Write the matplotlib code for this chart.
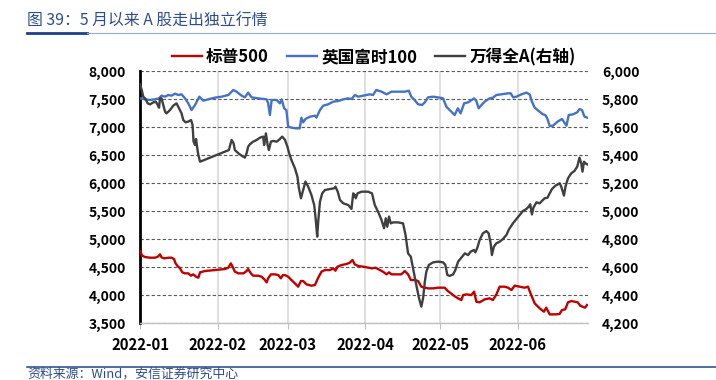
# 5月以来A股走出独立行情 - S&P500 / FTSE100 / Wind All A
import matplotlib
matplotlib.use('Agg')
import matplotlib.pyplot as plt
import matplotlib.dates as mdates
from matplotlib.lines import Line2D
from matplotlib.ticker import FuncFormatter
import numpy as np

plt.rcParams['font.family'] = ['Noto Sans CJK SC', 'DejaVu Sans']

# days counted from 2022-01-01
spx_day = [0, 0.9, 2.0, 4.0, 6.0, 7.1, 8.0, 8.6, 9.7, 11.3, 12.6, 13.6, 14.2, 15.0, 16.0, 16.9, 18.0, 19.3,
           20.4, 21.3, 22.4, 23.3, 24.0, 25.9, 28.6, 31.3, 33.9, 35.3, 36.3, 37.0, 37.9, 39.3, 41.3, 42.6,
           43.2, 44.3, 45.2, 47.2, 48.6, 49.9, 50.6, 51.2, 52.3, 53.9, 55.2, 56.3, 57.1, 57.9, 59.2, 60.5,
           61.9, 63.2, 64.3, 65.2, 66.5, 68.5, 69.9, 71.2, 72.5, 73.9, 75.9, 77.2, 78.1, 78.9, 80.5, 82.5,
           83.8, 84.9, 85.8, 87.2, 89.2, 91.2, 92.7, 94.1, 95.1, 97.1, 98.5, 99.5, 100.5, 104.4, 105.8,
           107.1, 108.2, 109.8, 111.1, 112.4, 113.8, 115.1, 117.1, 119.1, 120.4, 121.7, 123.0, 125.1, 126.0,
           127.1, 128.4, 129.1, 130.4, 132.4, 133.5, 134.4, 135.7, 137.7, 139.7, 141.0, 142.4, 143.7, 145.7,
           147.1, 148.4, 149.7, 151.7, 153.7, 155.0, 156.3, 157.7, 159.7, 161.4, 162.3, 163.7, 165.7, 167.6,
           168.6, 169.9, 171.0, 172.3, 173.6, 174.9, 175.9, 176.9, 177.8, 178.6]
spx_val = [4790, 4706, 4682, 4670, 4670, 4688, 4730, 4676, 4658, 4670, 4670, 4646, 4569, 4522, 4480, 4409, 4391, 4391,
           4349, 4373, 4331, 4313, 4409, 4432, 4444, 4456, 4468, 4492, 4569, 4510, 4420, 4391, 4391, 4432,
           4468, 4391, 4349, 4349, 4331, 4272, 4230, 4302, 4373, 4373, 4361, 4302, 4361, 4360, 4331, 4272,
           4212, 4153, 4254, 4254, 4195, 4171, 4183, 4313, 4420, 4450, 4450, 4480, 4438, 4510, 4539, 4557,
           4581, 4629, 4551, 4522, 4510, 4492, 4480, 4492, 4468, 4420, 4373, 4409, 4373, 4373, 4432,
           4373, 4272, 4272, 4254, 4153, 4135, 4123, 4123, 4135, 4135, 4135, 4076, 4004, 3974,
           3945, 3915, 4004, 4016, 4004, 4064, 3885, 3874, 3927, 3945, 3915, 4016, 4153, 4153,
           4135, 4093, 4171, 4153, 4135, 4153, 4004, 3856, 3766, 3707, 3778, 3659, 3659, 3665,
           3737, 3749, 3874, 3897, 3885, 3874, 3814, 3796, 3778, 3826]

ftse_day = [0, 2.0, 4.0, 6.0, 7.6, 8.6, 10.0, 11.3, 12.6, 14.0, 15.3, 16.6, 18.0, 19.3, 20.6, 22.0, 23.7, 25.3,
            27.3, 29.9, 32.6, 35.3, 37.3, 38.6, 40.6, 41.9, 43.2, 44.6, 47.2, 50.6, 51.2, 51.9, 52.6, 54.6,
            55.9, 56.6, 57.6, 58.5, 59.2, 60.5, 62.5, 63.8, 64.5, 65.2, 66.1, 67.9, 69.9, 70.5, 71.9, 73.2,
            75.2, 77.2, 79.2, 81.2, 83.2, 84.5, 85.9, 87.2, 89.2, 91.8, 93.1, 94.4, 96.5, 98.5, 100.5, 103.1,
            105.8, 107.4, 108.4, 109.7, 111.1, 112.7, 113.8, 115.1, 117.1, 119.8, 121.1, 122.4, 124.1, 125.7,
            127.0, 128.1, 129.5, 131.1, 133.5, 134.4, 135.3, 136.7, 138.0, 139.7, 141.0, 142.4, 144.4, 147.1,
            148.1, 149.1, 150.4, 152.4, 154.4, 155.7, 156.6, 157.7, 159.3, 161.0, 161.9, 162.7, 163.7, 165.0,
            166.8, 168.6, 170.4, 171.3, 173.0, 174.7, 175.6, 176.6, 177.6, 178.7]
ftse_val = [7512, 7495, 7483, 7495, 7512, 7560, 7542, 7572, 7560, 7596, 7572, 7584, 7512, 7423, 7304, 7394, 7542, 7471,
            7495, 7524, 7542, 7572, 7661, 7631, 7560, 7530, 7614, 7530, 7512, 7495, 7423, 7215, 7483, 7483,
            7423, 7495, 7334, 7300, 7007, 6989, 6977, 6977, 7168, 7084, 7144, 7185, 7203, 7168, 7304, 7382,
            7406, 7453, 7465, 7495, 7512, 7501, 7572, 7542, 7560, 7584, 7572, 7661, 7631, 7584, 7631, 7631,
            7631, 7649, 7542, 7483, 7406, 7394, 7441, 7530, 7542, 7524, 7512, 7364, 7287, 7215,
            7334, 7245, 7423, 7441, 7512, 7465, 7334, 7406, 7465, 7512, 7524, 7572, 7584, 7602,
            7602, 7530, 7542, 7584, 7614, 7584, 7453, 7346, 7287, 7227, 7215, 7156, 7019, 7025,
            7096, 7144, 7025, 7215, 7227, 7263, 7322, 7304, 7185, 7168]

wind_day = [0, 0.7, 1.3, 2.0, 3.1, 4.0, 5.3, 6.3, 7.1, 7.6, 8.0, 8.6, 9.3, 10.0, 10.6, 12.0, 13.3, 14.6, 15.6,
            16.6, 17.3, 18.2, 19.3, 20.4, 21.0, 21.4, 22.0, 22.4, 22.8, 23.3, 24.0, 35.5, 36.6, 37.4, 37.9,
            39.3, 40.6, 41.9, 42.6, 43.2, 43.9, 45.2, 46.6, 47.9, 49.2, 49.6, 50.3, 51.0, 51.5, 52.3, 53.2,
            54.6, 55.9, 56.8, 57.9, 58.9, 59.6, 60.5, 61.9, 62.9, 63.5, 64.3, 65.2, 66.1, 67.2, 68.5, 69.6,
            70.3, 70.8, 71.2, 71.9, 72.8, 73.9, 75.9, 77.6, 78.1, 79.0, 79.9, 81.2, 83.2, 84.5, 85.2, 85.8,
            86.2, 86.9, 88.5, 91.1, 92.7, 93.8, 95.1, 96.5, 97.5, 98.2, 98.8, 99.5, 100.2, 101.1, 103.1,
            105.1, 106.1, 107.1, 108.2, 109.1, 110.4, 111.5, 112.4, 113.1, 113.8, 114.4, 115.4, 117.1, 119.1,
            121.1, 122.0, 122.8, 123.7, 125.1, 126.0, 127.1, 128.4, 129.8, 131.1, 132.1, 133.4, 134.0, 134.8,
            135.7, 137.0, 138.4, 139.3, 140.1, 140.6, 141.4, 142.4, 143.7, 145.0, 146.4, 147.3, 148.1, 149.0,
            150.4, 151.7, 153.0, 154.4, 155.3, 155.9, 156.6, 157.2, 158.4, 159.7, 160.6, 161.7, 162.8, 163.7,
            164.6, 166.0, 167.7, 168.3, 169.4, 170.0, 171.0, 172.3, 173.6, 174.7, 175.6, 176.3, 176.8, 177.4,
            178.0, 178.7]
wind_val = [5905, 5864, 5817, 5805, 5769, 5762, 5776, 5781, 5757, 5738, 5805, 5805, 5757, 5710, 5698, 5722, 5753, 5769, 5734,
            5698, 5650, 5634, 5639, 5650, 5615, 5496, 5472, 5515, 5460, 5401, 5353, 5436, 5508, 5484, 5436,
            5413, 5396, 5382, 5413, 5460, 5477, 5496, 5508, 5524, 5532, 5472, 5555, 5472, 5436, 5496, 5501,
            5496, 5515, 5532, 5510, 5460, 5413, 5365, 5306, 5246, 5163, 5092, 5151, 5211, 5175, 5115, 5044,
            4925, 4818, 4925, 5068, 5127, 5151, 5158, 5163, 5175, 5139, 5080, 5056, 5044, 5016, 5127, 5115,
            5092, 5127, 5139, 5139, 5127, 5044, 4997, 4937, 4878, 4949, 4889, 4961, 4913, 4920, 4920,
            4913, 4830, 4699, 4675, 4592, 4473, 4378, 4319, 4378, 4497, 4568, 4616, 4635, 4640,
            4635, 4616, 4545, 4538, 4549, 4580, 4640, 4668, 4699, 4687, 4711, 4723, 4706, 4740,
            4794, 4842, 4858, 4842, 4771, 4687, 4747, 4771, 4782, 4801, 4830, 4866, 4889, 4913,
            4944, 4973, 5001, 5016, 5032, 5049, 4977, 5025, 5063, 5056, 5073, 5092, 5096, 5127,
            5158, 5182, 5199, 5175, 5111, 5175, 5234, 5270, 5287, 5318, 5382, 5341, 5282, 5353,
            5341, 5334]

series_names = ['标普500', '英国富时100', '万得全A(右轴)']
series_colors = ['#C00000', '#4472C4', '#404040']
left_ticks = [3500, 4000, 4500, 5000, 5500, 6000, 6500, 7000, 7500, 8000]
right_ticks = [4200, 4400, 4600, 4800, 5000, 5200, 5400, 5600, 5800, 6000]

W, H = 716, 380
start = mdates.datestr2num('2022-01-01')

fig = plt.figure(figsize=(W / 100, H / 100), dpi=100)
ax = fig.add_axes([140 / W, 1 - 323.3 / H, 448 / W, 252.3 / H])
ax2 = ax.twinx()

l1, = ax.plot(start + np.array(spx_day), spx_val, color=series_colors[0], lw=1.7, zorder=3)
l2, = ax.plot(start + np.array(ftse_day), ftse_val, color=series_colors[1], lw=1.7, zorder=3)
l3, = ax2.plot(start + np.array(wind_day), wind_val, color=series_colors[2], lw=1.7, zorder=3)

ax.set_xlim(start, start + 179)
ax.set_ylim(3500, 8000)
ax2.set_ylim(4200, 6000)
ax.set_yticks(left_ticks)
ax2.set_yticks(right_ticks)
fmt = FuncFormatter(lambda v, p: f'{v:,.0f}')
ax.yaxis.set_major_formatter(fmt)
ax2.yaxis.set_major_formatter(fmt)

ax.xaxis.set_major_locator(mdates.MonthLocator())
ax.xaxis.set_major_formatter(mdates.DateFormatter('%Y-%m'))

ax.set_axisbelow(True)
ax.yaxis.grid(True, color='#595959', lw=0.8, ls=(0, (3, 2)))
ax.xaxis.grid(True, color='#d9d9d9', lw=1.2, ls='-')

for s in ['top', 'right']:
    ax.spines[s].set_visible(False)
for s in ax2.spines:
    ax2.spines[s].set_visible(False)
ax.spines['left'].set_color('black')
ax.spines['left'].set_linewidth(2)
ax.spines['bottom'].set_color('#bfbfbf')
ax.spines['bottom'].set_linewidth(1)

ax.tick_params(axis='y', length=0, pad=10, labelsize=10)
ax2.tick_params(axis='y', length=0, pad=10, labelsize=10)
ax.tick_params(axis='x', length=4, color='#bfbfbf', pad=6, labelsize=10.7)
for lab in ax.get_xticklabels() + ax.get_yticklabels() + ax2.get_yticklabels():
    lab.set_fontweight('bold')

fig.legend([l1, l2, l3], series_names, loc='center', bbox_to_anchor=(0.522, 1 - 57 / H), ncol=3,
           frameon=False, prop={'weight': 'bold', 'size': 12}, handlelength=1.8,
           handletextpad=0.25, columnspacing=1.1)

# title and source
fig.text(27 / W, 1 - 21 / H, '图 39：5 月以来 A 股走出独立行情', color='#2F4C8F', fontsize=11.4,
         va='center', ha='left')
fig.add_artist(Line2D([27 / W, 87 / W], [1 - 33 / H] * 2, color='#1F3F8A', lw=2))
fig.add_artist(Line2D([87 / W, 1], [1 - 32.5 / H] * 2, color='#8EA9DB', lw=0.8))
fig.add_artist(Line2D([27 / W, 1], [1 - 366.7 / H] * 2, color='#2F5597', lw=1.2))
fig.text(27 / W, 1 - 374.5 / H, '资料来源：Wind，安信证券研究中心', color='#2F4C8F', fontsize=9.3,
         va='center', ha='left')

fig.savefig('out.png', dpi=100)
